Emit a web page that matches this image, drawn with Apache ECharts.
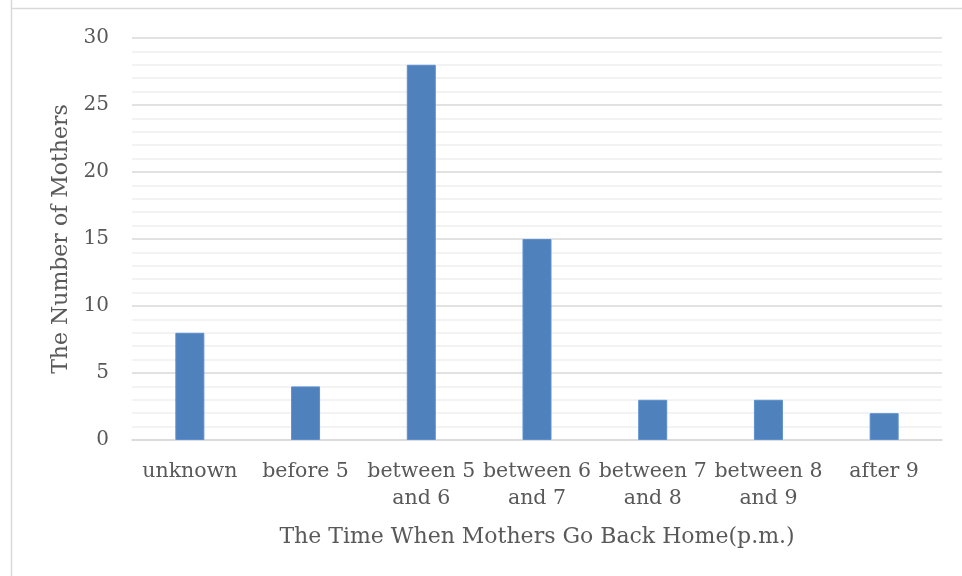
<!DOCTYPE html>
<html>
<head>
<meta charset="utf-8">
<script src="https://cdn.jsdelivr.net/npm/echarts@6/dist/echarts.min.js"></script>
<style>
  html, body { margin: 0; padding: 0; background: #fff; }
  #chart { width: 962px; height: 576px; }
</style>
</head>
<body>
<div id="chart"></div>
<script>
// Return-home time categories and number of mothers in each
const categories = ['unknown', 'before 5', 'between 5 and 6', 'between 6 and 7', 'between 7 and 8', 'between 8 and 9', 'after 9'];
const mothers = [8, 4, 28, 15, 3, 3, 2];
const yTicks = [0, 5, 10, 15, 20, 25, 30];

const FONT = '"DejaVu Serif", "Liberation Serif", serif';
const TEXT = '#595959';

const chart = echarts.init(document.getElementById('chart'));
chart.setOption({
  animation: false,
  backgroundColor: '#ffffff',
  graphic: [
    { type: 'line', shape: { x1: 11, y1: 8.5, x2: 962, y2: 8.5 }, style: { stroke: '#d9d9d9', lineWidth: 1.5 } },
    { type: 'line', shape: { x1: 11.5, y1: 0, x2: 11.5, y2: 576 }, style: { stroke: '#d9d9d9', lineWidth: 1.5 } }
  ],
  grid: { left: 132, right: 20, top: 38, bottom: 136 },
  xAxis: {
    type: 'category',
    data: categories,
    axisTick: { show: false },
    axisLine: { lineStyle: { color: '#d9d9d9', width: 1.5 } },
    axisLabel: {
      color: TEXT, fontFamily: FONT, fontSize: 20.5, margin: 18, lineHeight: 27,
      interval: 0,
      formatter: v => v.replace(' and ', '\nand ')
    },
    name: 'The Time When Mothers Go Back Home(p.m.)',
    nameLocation: 'middle',
    nameGap: 86,
    nameTextStyle: { color: TEXT, fontFamily: FONT, fontSize: 22 }
  },
  yAxis: {
    type: 'value',
    min: yTicks[0],
    max: yTicks[yTicks.length - 1],
    interval: 5,
    axisLine: { show: false },
    axisTick: { show: false },
    axisLabel: { color: TEXT, fontFamily: FONT, fontSize: 20, margin: 23 },
    splitLine: { lineStyle: { color: '#d9d9d9', width: 1.5 } },
    minorTick: { show: false, splitNumber: 5 },
    minorSplitLine: { show: true, lineStyle: { color: '#f0f0f0', width: 1.5 } },
    name: 'The Number of Mothers',
    nameLocation: 'middle',
    nameGap: 59,
    nameTextStyle: { color: TEXT, fontFamily: FONT, fontSize: 22 }
  },
  series: [{
    type: 'bar',
    data: mothers,
    barWidth: 29,
    itemStyle: { color: '#4f81bd', borderColor: '#5b8fd0', borderWidth: 1 }
  }]
});
</script>
</body>
</html>
